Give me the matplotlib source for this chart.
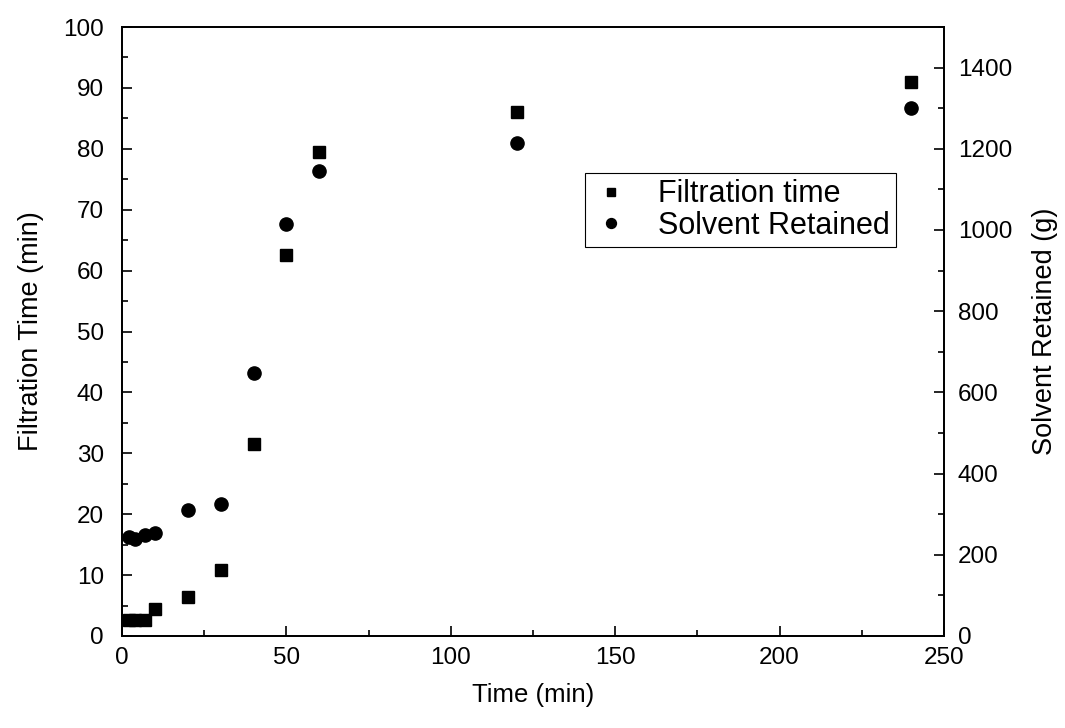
import matplotlib
matplotlib.use('Agg')
import matplotlib.pyplot as plt
from matplotlib.ticker import MultipleLocator

plt.rcParams['font.family'] = ['Liberation Sans', 'DejaVu Sans']

# data
tiempo = [2, 4, 7, 10, 20, 30, 40, 50, 60, 120, 240]
filtracion = [2.7, 2.7, 2.7, 4.5, 6.4, 10.9, 31.6, 62.6, 79.5, 86.0, 91.0]
solvente = [243, 238, 248, 253, 310, 324, 649, 1016, 1146, 1214, 1300]

fig = plt.figure(figsize=(10.65, 7.28), dpi=100)
ax = fig.add_axes([122 / 1065, 1 - 636 / 728, 822 / 1065, 609 / 728])
ax2 = ax.twinx()

l1, = ax.plot(tiempo, filtracion, 's', color='black', markersize=8.5, linestyle='none',
              label='Filtration time', clip_on=False)
l2, = ax2.plot(tiempo, solvente, 'o', color='black', markersize=9.5, linestyle='none',
               label='Solvent Retained', clip_on=False)

ax.set_xlim(0, 250)
ax.set_ylim(0, 100)
ax2.set_ylim(0, 1500)

ax.xaxis.set_major_locator(MultipleLocator(50))
ax.xaxis.set_minor_locator(MultipleLocator(25))
ax.yaxis.set_major_locator(MultipleLocator(10))
ax.yaxis.set_minor_locator(MultipleLocator(5))
ax2.yaxis.set_major_locator(MultipleLocator(200))
ax2.yaxis.set_minor_locator(MultipleLocator(100))

for a in (ax, ax2):
    a.tick_params(which='major', direction='in', length=7, width=1.2, labelsize=17.5)
    a.tick_params(which='minor', direction='in', length=4, width=1.2)
    for s in a.spines.values():
        s.set_linewidth(1.3)
ax.tick_params(axis='x', pad=8)
ax.tick_params(axis='y', pad=13)
ax2.tick_params(axis='y', pad=10)

ax.set_xlabel('Time (min)', fontsize=18.5, labelpad=10)
ax.set_ylabel('Filtration Time (min)', fontsize=19.5, labelpad=14)
ax2.set_ylabel('Solvent Retained (g)', fontsize=19.5, labelpad=14)

leg = ax2.legend([l1, l2], ['Filtration time', 'Solvent Retained'], loc='upper left',
                 bbox_to_anchor=(0.563, 0.76), fontsize=22, markerscale=0.75,
                 fancybox=False, edgecolor='black', framealpha=1, handletextpad=0.9,
                 borderpad=0.2, labelspacing=0.05, handlelength=1.3, borderaxespad=0)
leg.get_frame().set_linewidth(0.8)

fig.savefig('out.png', dpi=100)
